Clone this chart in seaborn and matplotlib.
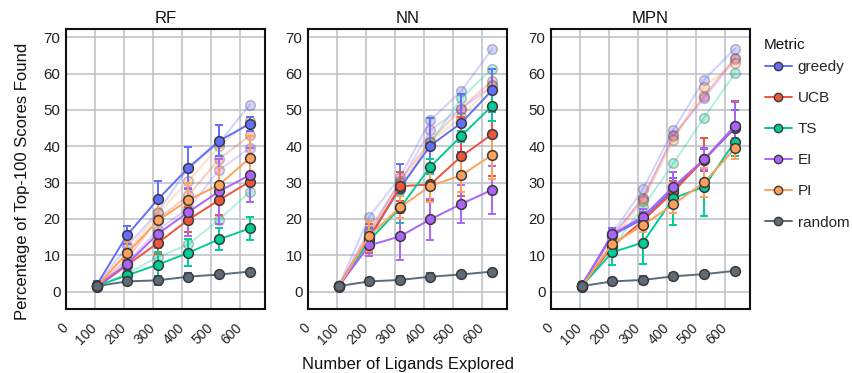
import matplotlib
matplotlib.use("Agg")
import matplotlib.pyplot as plt
from matplotlib.lines import Line2D
import numpy as np
import pandas as pd
import seaborn as sns

# ---------------- data ----------------
models = ["RF", "NN", "MPN"]
metrics = ["greedy", "UCB", "TS", "EI", "PI", "random"]
ligands = [106, 211, 317, 422, 528, 634]
xticks = [0, 100, 200, 300, 400, 500, 600]
yticks = [0, 10, 20, 30, 40, 50, 60, 70]

# rows follow `metrics` order
rf_mean = [[1.8, 15.6, 25.4, 34.1, 41.5, 46.2],
           [1.2, 7.3, 13.4, 19.8, 25.2, 30.3],
           [1.5, 4.5, 7.4, 10.7, 14.4, 17.4],
           [1.5, 7.6, 15.9, 21.9, 27.6, 32.1],
           [1.4, 10.6, 19.6, 25.2, 29.4, 36.8],
           [1.5, 2.8, 3.1, 4.1, 4.7, 5.5]]
rf_err = [[1.0, 2.5, 5.0, 5.8, 4.3, 2.0],
          [0.6, 1.5, 3.0, 3.5, 4.0, 5.5],
          [0.5, 1.2, 3.5, 3.7, 3.0, 3.2],
          [0.5, 2.0, 4.0, 6.5, 9.0, 7.5],
          [0.5, 3.0, 5.0, 4.7, 4.5, 6.0],
          [0.5, 1.0, 1.2, 1.0, 0.5, 0.4]]
rf_alt = [[1.6, 12.5, 22.0, 34.0, 41.0, 51.5],
          [1.3, 9.0, 20.0, 26.5, 36.5, 43.0],
          [1.5, 5.0, 9.5, 13.0, 19.8, 27.5],
          [1.4, 8.0, 17.0, 23.0, 33.5, 39.5],
          [1.5, 11.0, 21.5, 30.5, 40.0, 47.0]]

nn_mean = [[1.5, 15.0, 28.5, 40.2, 46.4, 55.4],
           [1.2, 14.5, 29.0, 29.5, 37.2, 43.3],
           [1.5, 14.0, 23.0, 34.4, 42.8, 51.1],
           [1.5, 12.7, 15.2, 19.9, 24.1, 28.0],
           [1.4, 15.3, 23.2, 29.1, 32.0, 37.6],
           [1.5, 2.8, 3.2, 4.1, 4.7, 5.5]]
nn_err = [[0.8, 2.5, 6.5, 7.5, 8.0, 6.0],
          [0.5, 4.0, 4.0, 4.5, 11.0, 11.5],
          [0.5, 2.0, 4.0, 2.0, 1.5, 4.0],
          [0.5, 3.0, 6.5, 5.7, 5.3, 6.7],
          [0.5, 4.0, 3.0, 4.5, 4.7, 6.5],
          [0.5, 1.0, 1.2, 1.0, 0.5, 0.4]]
nn_alt = [[1.5, 20.6, 31.5, 47.2, 55.2, 66.7],
          [1.5, 16.0, 30.5, 41.5, 50.4, 58.0],
          [1.5, 15.0, 28.0, 41.0, 53.2, 61.4],
          [1.5, 17.0, 30.0, 44.5, 50.4, 56.5],
          [1.5, 16.0, 29.0, 41.3, 48.0, 57.0]]

mpn_mean = [[1.8, 15.5, 20.0, 28.2, 36.3, 45.0],
            [1.3, 12.5, 19.5, 27.5, 36.4, 45.5],
            [1.5, 10.8, 13.5, 25.7, 28.9, 41.3],
            [1.5, 15.8, 20.6, 28.9, 36.4, 45.6],
            [1.4, 13.1, 18.3, 24.0, 30.1, 39.4],
            [1.5, 2.8, 3.2, 4.2, 4.8, 5.7]]
mpn_err = [[0.8, 1.9, 2.0, 3.0, 3.0, 5.0],
           [0.5, 1.5, 2.0, 3.0, 6.0, 7.0],
           [0.5, 3.5, 6.0, 7.3, 8.0, 4.0],
           [0.5, 1.5, 2.0, 4.0, 3.0, 6.5],
           [0.5, 1.5, 2.0, 2.5, 4.0, 3.0],
           [0.5, 1.0, 1.2, 1.0, 0.5, 0.4]]
mpn_alt = [[1.5, 16.0, 28.2, 44.5, 58.3, 66.9],
           [1.5, 15.0, 25.9, 42.7, 53.9, 64.4],
           [1.5, 12.0, 23.4, 35.3, 47.9, 60.1],
           [1.5, 15.5, 25.5, 43.0, 53.2, 64.0],
           [1.5, 14.0, 25.0, 41.6, 56.4, 63.0]]

colors = ["#636EFA", "#EF553B", "#00CC96", "#AB63FA", "#FFA15A", "#5E6B78"]

# ---------------- style ----------------
sns.set_theme(style="white")
plt.rcParams["font.family"] = ["Liberation Sans", "DejaVu Sans"]

W, H = 852, 373
fig = plt.figure(figsize=(W / 100, H / 100), dpi=100)

lefts = [66, 308, 551]
ax_w, top, bottom = 199, 29, 309
palette = dict(zip(metrics, colors))
edge = "#3a3a3a"

panel_data = {"RF": (rf_mean, rf_err, rf_alt),
              "NN": (nn_mean, nn_err, nn_alt),
              "MPN": (mpn_mean, mpn_err, mpn_alt)}

for model, left in zip(models, lefts):
    ax = fig.add_axes([left / W, 1 - bottom / H, ax_w / W, (bottom - top) / H])
    mean, err, alt = panel_data[model]

    alt_df = pd.DataFrame([(m, x, v) for m, row in zip(metrics[:5], alt)
                           for x, v in zip(ligands, row)],
                          columns=["Metric", "ligands", "value"])
    sns.lineplot(data=alt_df, x="ligands", y="value", hue="Metric",
                 palette=palette, marker="o", markersize=7,
                 markeredgecolor=edge, markeredgewidth=1.1, linewidth=1.4,
                 alpha=0.3, legend=False, ax=ax, zorder=2)

    df = pd.DataFrame([(m, x, v) for m, row in zip(metrics, mean)
                       for x, v in zip(ligands, row)],
                      columns=["Metric", "ligands", "value"])
    for m, row, e in zip(metrics, mean, err):
        ax.errorbar(ligands, row, yerr=e, fmt="none", ecolor=palette[m],
                    elinewidth=1.4, capsize=2.9, capthick=1.4, zorder=3)
    sns.lineplot(data=df, x="ligands", y="value", hue="Metric",
                 palette=palette, marker="o", markersize=7,
                 markeredgecolor=edge, markeredgewidth=1.1, linewidth=1.4,
                 legend=False, ax=ax, zorder=4)

    ax.set_xlim(0, 686)
    ax.set_ylim(-4.8, 72.3)
    ax.set_xticks(xticks)
    ax.set_xticklabels([str(t) for t in xticks], rotation=45, ha="right",
                       va="center", rotation_mode="anchor", fontsize=10)
    ax.set_yticks(yticks)
    ax.set_yticklabels([str(t) for t in yticks], fontsize=10.8)
    ax.tick_params(axis="y", length=0, pad=4, colors="#222222")
    ax.tick_params(axis="x", length=0, pad=12, colors="#222222")
    ax.grid(True, color="#c0c3c8", linewidth=1.2)
    ax.set_axisbelow(True)
    for s in ax.spines.values():
        s.set_color("#111111")
        s.set_linewidth(1.5)
    ax.set_xlabel("")
    ax.set_ylabel("")
    ax.set_title(model, fontsize=12, pad=4, color="#111111")

fig.text(408 / W, 1 - 364 / H, "Number of Ligands Explored", ha="center",
         va="center", fontsize=12, color="#111111")
fig.text(23 / W, 1 - 181 / H, "Percentage of Top-100 Scores Found",
         ha="center", va="center", rotation=90, fontsize=12, color="#111111")

fig.text(764 / W, 1 - 45 / H, "Metric", ha="left", va="center",
         fontsize=11, color="#111111")
handles = [Line2D([0], [0], color=c, marker="o", markersize=6,
                  markeredgecolor=edge, markeredgewidth=1.0, linewidth=1.4)
           for c in colors]
leg = fig.legend(handles, metrics, loc="upper left",
                 bbox_to_anchor=(765 / W, 1 - 60 / H), frameon=False,
                 fontsize=11, labelspacing=1.12,
                 handlelength=1.75, handletextpad=0.4, borderaxespad=0,
                 borderpad=0)

fig.savefig("out.png", dpi=100)
